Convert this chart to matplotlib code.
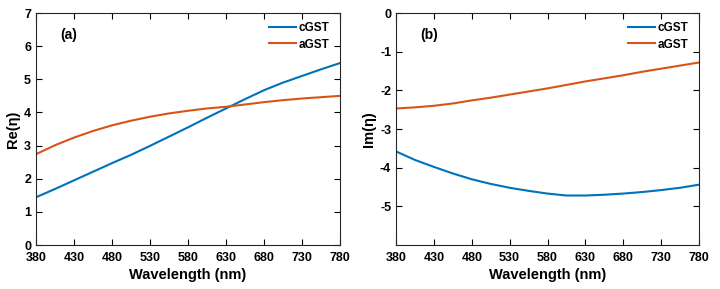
import matplotlib
matplotlib.use("Agg")
import matplotlib.pyplot as plt
import numpy as np

plt.rcParams['font.family'] = ['Liberation Sans', 'DejaVu Sans']
plt.rcParams['font.weight'] = 'bold'
plt.rcParams['axes.unicode_minus'] = False

wavelength = [380, 405, 430, 455, 480, 505, 530, 555, 580, 605, 630, 655, 680, 705, 730, 755, 780]
re_cgst = [1.44, 1.69, 1.95, 2.21, 2.47, 2.72, 2.99, 3.27, 3.55, 3.84, 4.12, 4.40, 4.67, 4.90, 5.10, 5.30, 5.49]
re_agst = [2.74, 3.01, 3.24, 3.44, 3.61, 3.75, 3.87, 3.97, 4.05, 4.12, 4.17, 4.24, 4.31, 4.37, 4.42, 4.46, 4.50]
im_cgst = [-3.58, -3.80, -3.98, -4.15, -4.30, -4.42, -4.52, -4.60, -4.67, -4.72, -4.72, -4.70, -4.67, -4.63, -4.58, -4.52, -4.44]
im_agst = [-2.47, -2.44, -2.40, -2.34, -2.26, -2.19, -2.11, -2.03, -1.95, -1.86, -1.77, -1.69, -1.61, -1.52, -1.44, -1.36, -1.28]

xticks = [380, 430, 480, 530, 580, 630, 680, 730, 780]
blue = '#0072BD'
orange = '#D95319'

fig = plt.figure(figsize=(7.2, 2.89), dpi=100)
ax1 = fig.add_axes([36/720, 1-245/289, 304/720, 232/289])
ax2 = fig.add_axes([396/720, 1-245/289, 303/720, 232/289])

def style(ax):
    ax.set_xlim(380, 780)
    ax.set_xticks(xticks)
    ax.tick_params(direction='in', top=True, right=True, labelsize=9, length=4, width=0.8)
    ax.tick_params(axis='x', pad=5)
    ax.tick_params(axis='y', pad=3.5)
    for s in ax.spines.values():
        s.set_linewidth(0.8)
        s.set_color('#262626')
    for lab in ax.get_xticklabels() + ax.get_yticklabels():
        lab.set_fontweight('bold')
    ax.set_xlabel('Wavelength (nm)', fontsize=10.5, fontweight='bold', labelpad=3)

ax1.plot(wavelength, re_cgst, color=blue, lw=1.5, label='cGST')
ax1.plot(wavelength, re_agst, color=orange, lw=1.5, label='aGST')
ax1.set_ylim(0, 7)
ax1.set_yticks(range(0, 8))
ax1.set_ylabel('Re(η)', fontsize=10.5, fontweight='bold', labelpad=3)
style(ax1)
ax1.text(0.08, 0.905, '(a)', transform=ax1.transAxes, fontsize=10, fontweight='bold', va='center')

ax2.plot(wavelength, im_cgst, color=blue, lw=1.5, label='cGST')
ax2.plot(wavelength, im_agst, color=orange, lw=1.5, label='aGST')
ax2.set_ylim(-6, 0)
ax2.set_yticks([-5, -4, -3, -2, -1, 0])
ax2.set_ylabel('Im(η)', fontsize=10.5, fontweight='bold', labelpad=3)
style(ax2)
ax2.text(0.08, 0.905, '(b)', transform=ax2.transAxes, fontsize=10, fontweight='bold', va='center')

for ax in (ax1, ax2):
    leg = ax.legend(loc='upper right', frameon=False, fontsize=8.5, handlelength=2.3,
                    borderaxespad=0.4, labelspacing=0.35, handletextpad=0.2,
                    bbox_to_anchor=(0.995, 1.0))
    for t in leg.get_texts():
        t.set_fontweight('bold')

fig.savefig('out.png', dpi=100)
